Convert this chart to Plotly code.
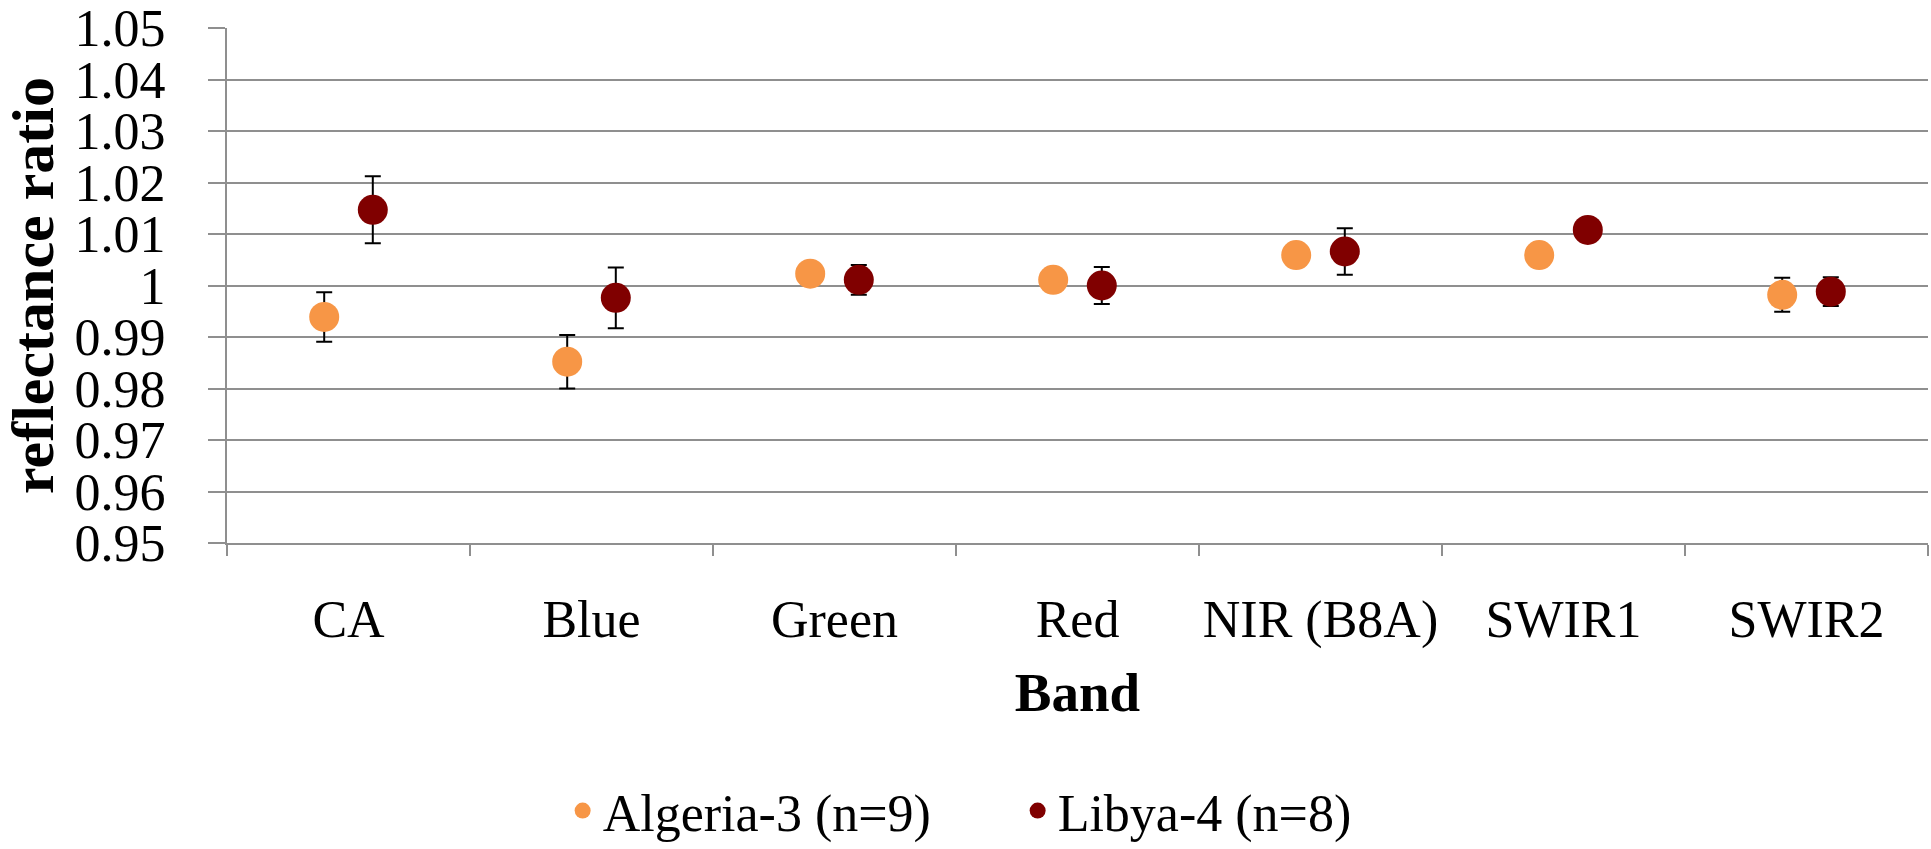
import plotly.graph_objects as go

bands = ["CA", "Blue", "Green", "Red", "NIR (B8A)", "SWIR1", "SWIR2"]

algeria_name = "Algeria-3 (n=9)"
algeria_vals = [0.9939, 0.9852, 1.0023, 1.0011, 1.0059, 1.0059, 0.9982]
algeria_err = [0.0048, 0.0052, 0.0015, 0.0015, 0.0015, 0.0015, 0.0033]

libya_name = "Libya-4 (n=8)"
libya_vals = [1.0147, 0.9976, 1.0011, 1.0000, 1.0066, 1.0108, 0.9988]
libya_err = [0.0065, 0.0059, 0.0029, 0.0036, 0.0045, 0.0015, 0.0028]

y_ticks = [0.95, 0.96, 0.97, 0.98, 0.99, 1.00, 1.01, 1.02, 1.03, 1.04, 1.05]
y_ticktext = ["0.95", "0.96", "0.97", "0.98", "0.99", "1", "1.01", "1.02", "1.03", "1.04", "1.05"]

FONT = "Liberation Serif"
GRID = "#8f8f8f"

fig = go.Figure()
for name, vals, err, color, grp in [
    (algeria_name, algeria_vals, algeria_err, "#F79646", "a"),
    (libya_name, libya_vals, libya_err, "#800000", "b"),
]:
    fig.add_trace(go.Scatter(
        x=bands, y=vals, name=name, mode="markers", offsetgroup=grp,
        marker=dict(color=color, size=30, line=dict(width=0)),
        error_y=dict(type="data", array=err, visible=True, color="black",
                     thickness=2, width=8),
    ))

fig.update_layout(
    width=1931, height=849,
    margin=dict(l=227, r=3, t=28, b=306),
    paper_bgcolor="white", plot_bgcolor="white",
    font=dict(family=FONT, color="black", size=52),
    scattermode="group", scattergap=0.6,
    showlegend=True,
    legend=dict(orientation="h", xref="container", yref="container",
                x=0.527, xanchor="center", y=0.045, yanchor="middle",
                font=dict(size=52, family=FONT), itemsizing="trace",
                entrywidth=410, entrywidthmode="pixels"),
    xaxis=dict(
        type="category", categoryorder="array", categoryarray=bands,
        range=[-0.5, 6.5], tickson="boundaries", ticks="outside", ticklen=11,
        tickwidth=2, tickcolor=GRID, showline=True, linecolor=GRID, linewidth=2,
        showgrid=False, tickfont=dict(size=52, family=FONT), tickangle=0,
        ticklabelstandoff=30, automargin=False,
        title=dict(text="<b>Band</b>", font=dict(size=55, family=FONT), standoff=24),
    ),
    yaxis=dict(
        range=[0.95, 1.05], tickvals=y_ticks, ticktext=y_ticktext,
        ticks="outside", ticklen=17, tickwidth=2, tickcolor=GRID,
        showline=True, linecolor=GRID, linewidth=2, mirror=False,
        showgrid=True, gridcolor=GRID, gridwidth=2, zeroline=False,
        tickfont=dict(size=52, family=FONT), ticklabelstandoff=32,
        ticklabeloverflow="allow", automargin=False,
        title=dict(text="<b>reflectance ratio</b>", font=dict(size=60, family=FONT), standoff=5),
    ),
)

fig.write_html("out.html")
